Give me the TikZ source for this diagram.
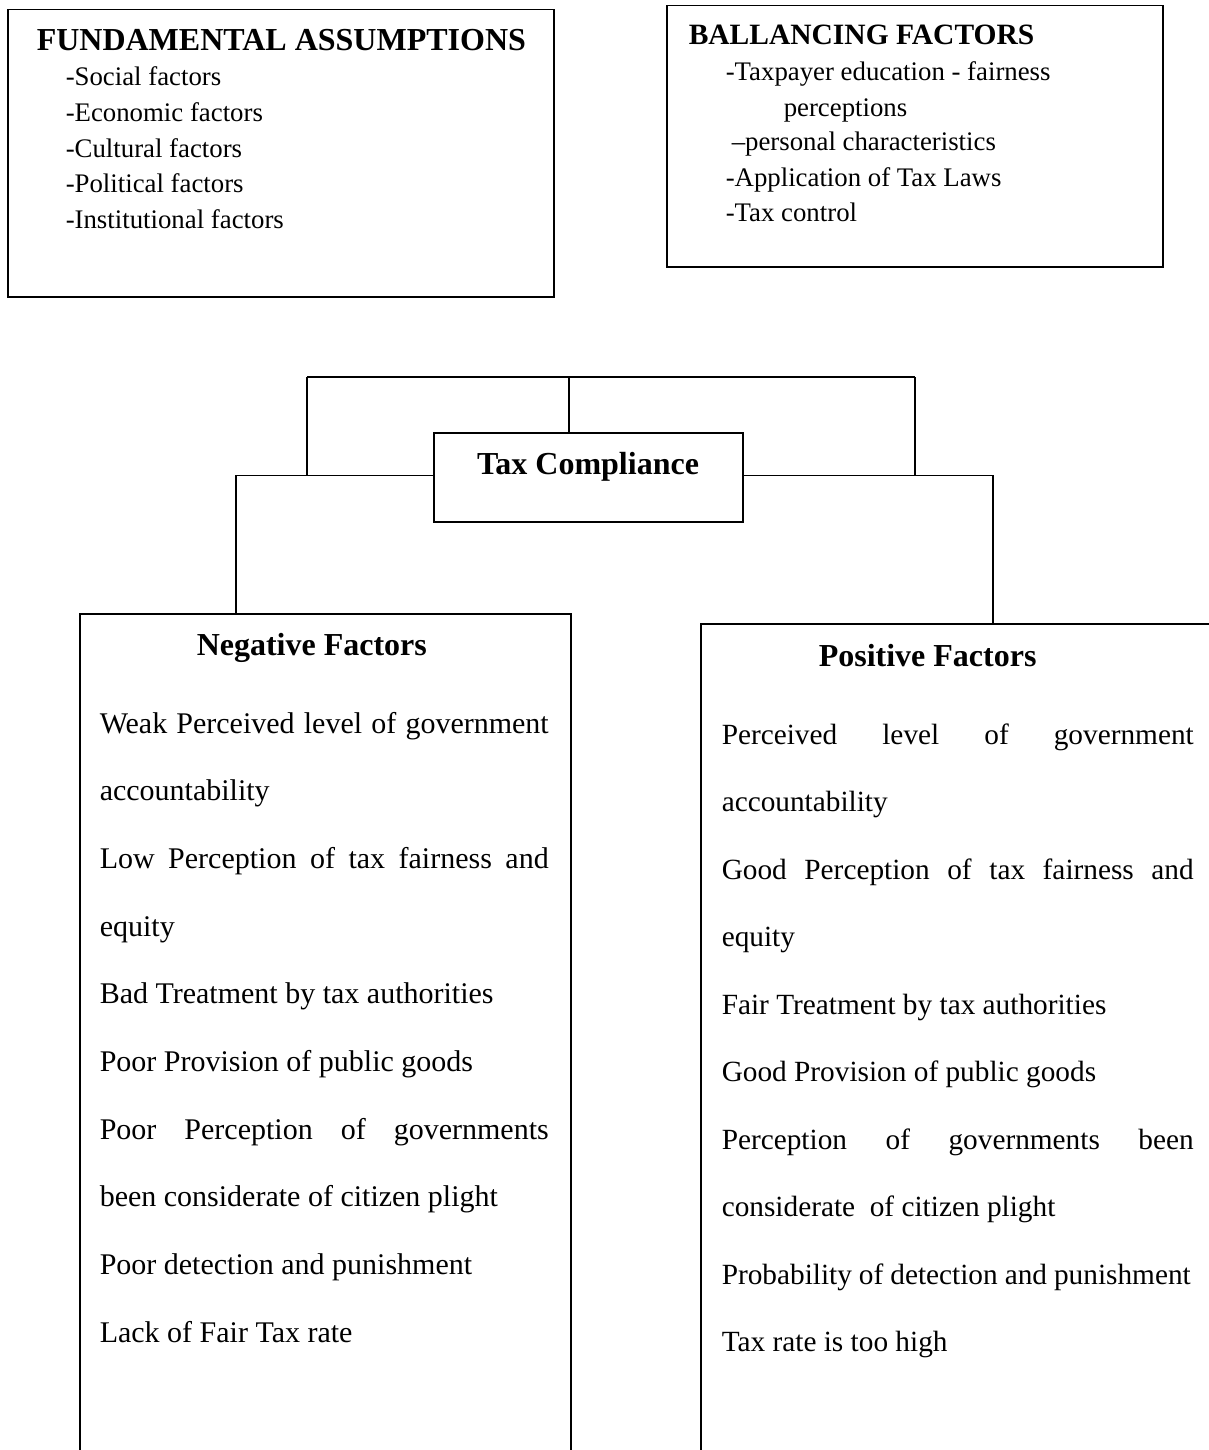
\documentclass[tikz,border=0pt]{standalone}
\usepackage{fontspec}
\setmainfont{Liberation Serif}
\begin{document}
\begin{tikzpicture}[x=1pt,y=-1pt,line width=1.5pt,
  box/.style={draw,rectangle,inner sep=0pt,anchor=north west},
  bighead/.style={font=\fontsize{32}{38}\selectfont\bfseries,anchor=base west,inner sep=0pt},
  bfhead/.style={font=\fontsize{29.5}{36}\selectfont\bfseries,anchor=base west,inner sep=0pt},
  item/.style={font=\fontsize{26.8}{32}\selectfont,anchor=base west,inner sep=0pt},
  body/.style={font=\fontsize{30}{36}\selectfont,anchor=base west,inner sep=0pt},
  pbody/.style={font=\fontsize{29.3}{36}\selectfont,anchor=base west,inner sep=0pt}]
\useasboundingbox (0,0) rectangle (1209,1450);
\clip (0,0) rectangle (1209,1450);

% top boxes
\node[box,minimum width=546pt,minimum height=287pt] (fa) at (7,9) {};
\node[bighead] (fah) at (36,50.5) {FUNDAMENTAL ASSUMPTIONS};
\node[item] (fa1) at (65,86) {-Social factors};
\node[item] (fa2) at (65,122) {-Economic factors};
\node[item] (fa3) at (65,158) {-Cultural factors};
\node[item] (fa4) at (65,193) {-Political factors};
\node[item] (fa5) at (65,228) {-Institutional factors};

\node[box,minimum width=496pt,minimum height=261pt] (bf) at (666,5) {};
\node[bfhead] (bfh) at (688,45) {BALLANCING FACTORS};
\node[item] (bf1) at (725,81) {-Taxpayer education - fairness};
\node[item] (bf2) at (783,117) {perceptions};
\node[item] (bf3) at (731,151) {--personal characteristics};
\node[item] (bf4) at (725,187) {-Application of Tax Laws};
\node[item] (bf5) at (725,222) {-Tax control};

% central box
\node[box,minimum width=309pt,minimum height=89pt] (tc) at (433,432) {};
\node[bighead,anchor=base] (tct) at (588,474) {Tax Compliance};

% factor boxes
\node[box,minimum width=491pt,minimum height=860pt] (neg) at (79,613) {};
\node[box,minimum width=540pt,minimum height=850pt] (pos) at (700,623) {};

% connectors
\coordinate (t1) at (307,377);
\coordinate (t2) at (569,377);
\coordinate (t3) at (915,377);
\coordinate (nl) at (236,613);
\coordinate (pr) at (993,623);
\coordinate (tcw) at ([yshift=2pt]tc.west);
\coordinate (tce) at ([yshift=2pt]tc.east);
\draw (t1) -- (t3);
\draw (t2) -- (t2 |- tc.north);
\draw (t1) -- (t1 |- tcw);
\draw (t3) -- (t3 |- tce);
\draw (tcw) -- (tcw -| nl) -- (nl);
\draw (tce) -- (tce -| pr) -- (pr);

% negative factors
\node[bighead] (negh) at (196,655) {Negative Factors};
\node[body] (n1) at (99,733) {\makebox[449pt][s]{Weak Perceived level of government}};
\node[body] (n2) at (99,800.7) {accountability};
\node[body] (n3) at (99,868.4) {\makebox[449pt][s]{Low Perception of tax fairness and}};
\node[body] (n4) at (99,936.1) {equity};
\node[body] (n5) at (99,1003.8) {Bad Treatment by tax authorities};
\node[body] (n6) at (99,1071.5) {Poor Provision of public goods};
\node[body] (n7) at (99,1139.2) {\makebox[449pt][s]{Poor Perception of governments}};
\node[body] (n8) at (99,1206.9) {been considerate of citizen plight};
\node[body] (n9) at (99,1274.6) {Poor detection and punishment};
\node[body] (n10) at (99,1342.3) {Lack of Fair Tax rate};

% positive factors
\node[bighead] (posh) at (818,666) {Positive Factors};
\node[pbody] (p1) at (721,744) {\makebox[472pt][s]{Perceived level of government}};
\node[pbody] (p2) at (721,811.5) {accountability};
\node[pbody] (p3) at (721,879) {\makebox[472pt][s]{Good Perception of tax fairness and}};
\node[pbody] (p4) at (721,946.5) {equity};
\node[pbody] (p5) at (721,1014) {Fair Treatment by tax authorities};
\node[pbody] (p6) at (721,1081.5) {Good Provision of public goods};
\node[pbody] (p7) at (721,1149) {\makebox[472pt][s]{Perception of governments been}};
\node[pbody] (p8) at (721,1216.5) {considerate\ \ of citizen plight};
\node[pbody] (p9) at (721,1284) {\makebox[469pt][s]{Probability of detection and punishment}};
\node[pbody] (p10) at (721,1351.5) {Tax rate is too high};
\end{tikzpicture}
\end{document}
